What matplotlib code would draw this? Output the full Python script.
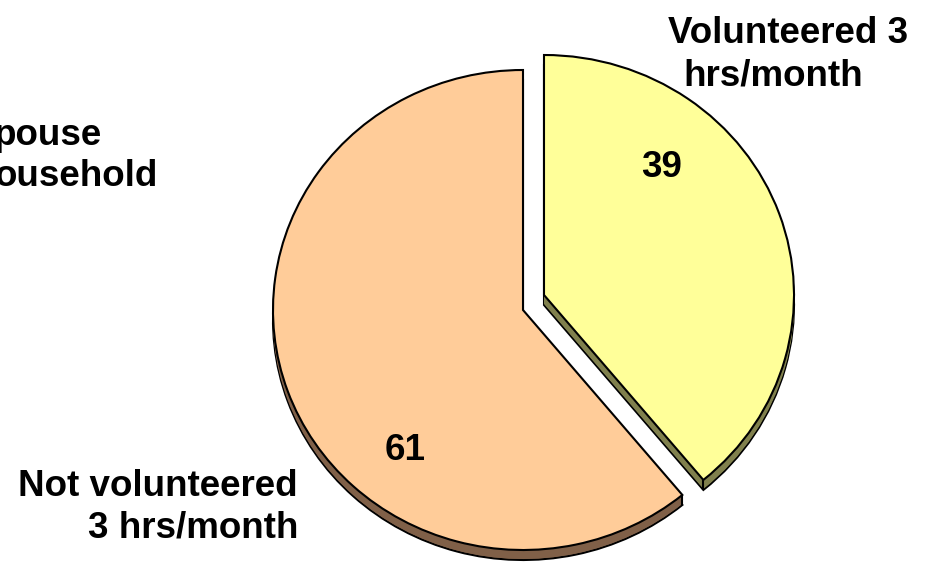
import matplotlib
matplotlib.use("Agg")
import matplotlib.pyplot as plt
import numpy as np

# ---- data ----
categories = ["Volunteered 3 hrs/month", "Not volunteered 3 hrs/month"]
values = [39, 61]
value_labels = ["39", "61"]
face_colors = ["#FFFF99", "#FFCC99"]
side_colors = ["#80804D", "#806048"]

W, H = 933, 562
RX, RY = 250.0, 240.0          # pixel radii of the (slightly squashed) pie


def X(px):
    return px / RX


def Y(py):
    return (H - py) / RY


fig = plt.figure(figsize=(W / 100, H / 100), dpi=100)
ax = fig.add_axes([0, 0, 1, 1])

center_px = (523, 310)
explode_px = (21, -15)         # offset of the pulled-out slice
depth = 10
lw = 1.5


def draw_pie(shift, faces, edge):
    cx, cy = X(center_px[0]), Y(center_px[1] + shift)
    wedges, _ = ax.pie(values, colors=faces, startangle=90, counterclock=False,
                       radius=1.0, center=(cx, cy),
                       wedgeprops=dict(edgecolor=edge, linewidth=lw if edge != "none" else 0))
    wedges[0].set_center((cx + explode_px[0] / RX, cy - explode_px[1] / RY))
    return wedges


# extruded sides
for d in range(depth, 0, -1):
    draw_pie(d, side_colors, "black" if d == depth else "none")
# top faces
top = draw_pie(0, face_colors, "black")

# vertical corner edges at the slice tips
for w in top:
    cx, cy = w.center
    ang = np.deg2rad(w.theta1 if w is top[0] else w.theta2)
    tx, ty = cx + w.r * np.cos(ang), cy + w.r * np.sin(ang)
    ax.plot([tx, tx], [ty, ty - depth / RY], color="black", lw=lw, zorder=5,
            solid_capstyle="butt")

ax.set_aspect("auto")
ax.set_xlim(0, W / RX)
ax.set_ylim(0, H / RY)
ax.axis("off")

font = dict(family=["Liberation Sans", "DejaVu Sans"], fontweight="bold", fontsize=26.5, color="black")

# value labels
ax.text(X(662), Y(177), value_labels[0], ha="center", va="baseline", **font)
ax.text(X(405), Y(460), value_labels[1], ha="center", va="baseline", **font)

# category labels
ax.text(X(668), Y(43), "Volunteered 3", ha="left", va="baseline", **font)
ax.text(X(683), Y(85), "hrs/month", ha="left", va="baseline", **font)
ax.text(X(298), Y(496), "Not volunteered", ha="right", va="baseline", **font)
ax.text(X(298), Y(537), "3 hrs/month", ha="right", va="baseline", **font)

# label of the neighbouring chart, cut by the left edge as in the reference
ax.text(X(-6), Y(145), "pouse", ha="left", va="baseline", **font)
ax.text(X(-5), Y(186), "ousehold", ha="left", va="baseline", **font)

fig.savefig("out.png", dpi=100)
